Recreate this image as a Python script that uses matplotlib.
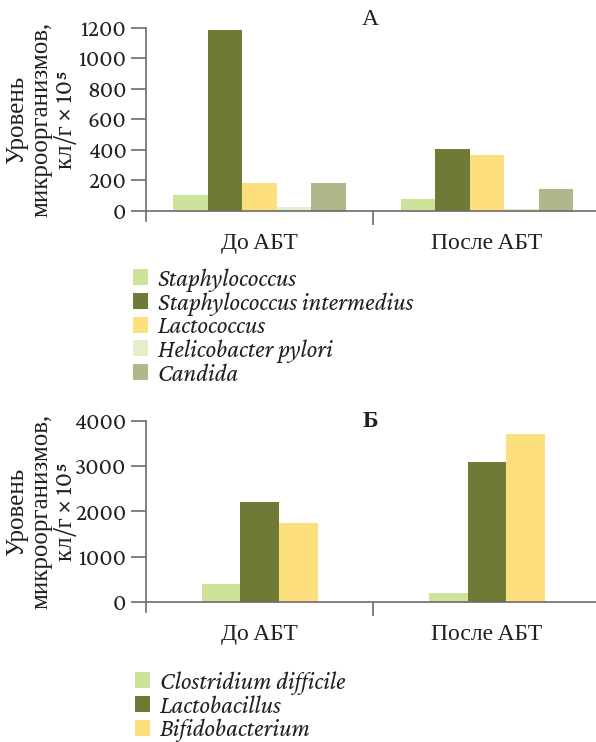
import numpy as np
import matplotlib
matplotlib.use("Agg")
import matplotlib.pyplot as plt
from matplotlib.patches import Patch

plt.rcParams['font.family'] = ['Crimson Pro', 'Liberation Serif', 'DejaVu Serif']
plt.rcParams['font.size'] = 17

# Data
groups = ["До АБТ", "После АБТ"]

species_a = ["Staphylococcus", "Staphylococcus intermedius", "Lactococcus",
             "Helicobacter pylori", "Candida"]
values_a = [
    [105, 80],     # Staphylococcus
    [1190, 405],   # Staphylococcus intermedius
    [180, 365],    # Lactococcus
    [25, 12],      # Helicobacter pylori
    [180, 145],    # Candida
]
colors_a = ["#cde29a", "#6e7a35", "#fddf7e", "#e3eecb", "#b0b78a"]

species_b = ["Clostridium difficile", "Lactobacillus", "Bifidobacterium"]
values_b = [
    [400, 200],    # Clostridium difficile
    [2200, 3090],  # Lactobacillus
    [1750, 3710],  # Bifidobacterium
]
colors_b = ["#cde29a", "#6e7a35", "#fddf7e"]

ylabel = "Уровень\nмикроорганизмов,\nкл/г × 10⁵"
axis_color = "#6b6b6b"
text_color = "#231f20"

fig = plt.figure(figsize=(5.96, 7.42), dpi=100)
W, H = 596, 742


def px_axes(left, top, right, bottom):
    return fig.add_axes([left / W, 1 - bottom / H, (right - left) / W, (bottom - top) / H])


def draw_panel(ax, values, colors, width, ymax, yticks, pad_units):
    x = np.arange(len(groups))
    n = len(values)
    for i, (vals, col) in enumerate(zip(values, colors)):
        offs = (i - (n - 1) / 2) * width
        ax.bar(x + offs, vals, width=width, color=col, linewidth=0)
    ax.set_xlim(-0.5, 1.48)
    ax.set_ylim(-pad_units, ymax)
    ax.set_yticks(yticks)
    ax.spines['top'].set_visible(False)
    ax.spines['right'].set_visible(False)
    ax.spines['bottom'].set_position(('data', 0))
    for s in ('left', 'bottom'):
        ax.spines[s].set_color(axis_color)
        ax.spines[s].set_linewidth(1.2)
    ax.set_xticks(x)
    ax.set_xticklabels(groups)
    ax.set_xticks([0.5], minor=True)
    ax.tick_params(axis='x', which='major', length=0, pad=16, labelcolor=text_color)
    ax.tick_params(axis='x', which='minor', length=10, width=1.2, color=axis_color, direction='out')
    ax.tick_params(axis='y', length=11, width=1.2, color=axis_color, direction='out', pad=3,
                   labelcolor=text_color)


ax1 = px_axes(146, 28, 596, 221)
draw_panel(ax1, values_a, colors_a, 0.152, 1200, [0, 200, 400, 600, 800, 1000, 1200], 66)

ax2 = px_axes(146, 421, 596, 612)
draw_panel(ax2, values_b, colors_b, 0.17, 4000, [0, 1000, 2000, 3000, 4000], 221)

fig.text(370 / W, 1 - 20 / H, "А", ha='center', va='center', color=text_color)
fig.text(370 / W, 1 - 422 / H, "Б", ha='center', va='center', fontweight='bold', color=text_color)

fig.text(42 / W, 1 - 120 / H, ylabel, rotation=90, ha='center', va='center', fontsize=18,
         linespacing=1.05, multialignment='center', color=text_color)
fig.text(42 / W, 1 - 512 / H, ylabel, rotation=90, ha='center', va='center', fontsize=18,
         linespacing=1.05, multialignment='center', color=text_color)

handles_a = [Patch(facecolor=c, edgecolor='none') for c in colors_a]
leg1 = fig.legend(handles_a, species_a, loc='upper left', bbox_to_anchor=(125 / W, 1 - 261 / H),
                  frameon=False, prop={'style': 'italic', 'size': 18},
                  handlelength=0.6, handleheight=0.6, handletextpad=0.4, labelspacing=0.0,
                  borderaxespad=0, borderpad=0.3)

handles_b = [Patch(facecolor=c, edgecolor='none') for c in colors_b]
leg2 = fig.legend(handles_b, species_b, loc='upper left', bbox_to_anchor=(127 / W, 1 - 664 / H),
                  frameon=False, prop={'style': 'italic', 'size': 18},
                  handlelength=0.6, handleheight=0.6, handletextpad=0.4, labelspacing=0.0,
                  borderaxespad=0, borderpad=0.3)
for leg in (leg1, leg2):
    for t in leg.get_texts():
        t.set_color(text_color)

fig.savefig("out.png", dpi=100)
